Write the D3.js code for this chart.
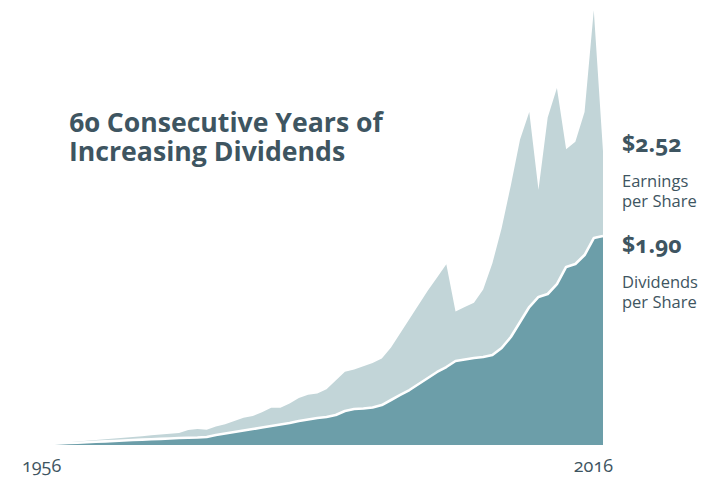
<!DOCTYPE html>
<html>
<head>
<meta charset="utf-8">
<script src="https://cdn.jsdelivr.net/npm/d3@7"></script>
<style>
  html, body { margin: 0; padding: 0; background: #ffffff; }
  svg { display: block; }
  text { font-family: "Open Sans", Lato, "DejaVu Sans", sans-serif; font-variant-numeric: oldstyle-nums; font-feature-settings: "onum" 1; }
</style>
</head>
<body>
<svg id="chart" width="710" height="488"></svg>
<script>
const years = d3.range(1956, 2017);

const earnings = [
  0.010, 0.016, 0.024, 0.031, 0.038, 0.046, 0.052, 0.059, 0.067, 0.074,
  0.081, 0.088, 0.095, 0.102, 0.110, 0.137, 0.146, 0.140, 0.170, 0.190,
  0.220, 0.250, 0.265, 0.300, 0.340, 0.340, 0.380, 0.430, 0.460, 0.470,
  0.510, 0.590, 0.670, 0.690, 0.720, 0.750, 0.790, 0.890, 1.020, 1.150,
  1.280, 1.410, 1.530, 1.650, 1.220, 1.260, 1.300, 1.420, 1.660, 1.980,
  2.370, 2.790, 3.040, 2.330, 2.990, 3.260, 2.700, 2.770, 3.040, 3.970,
  2.680
];

const dividends = [
  0.010, 0.014, 0.018, 0.021, 0.025, 0.029, 0.033, 0.037, 0.041, 0.045,
  0.049, 0.052, 0.056, 0.060, 0.064, 0.066, 0.068, 0.073, 0.091, 0.105,
  0.119, 0.132, 0.146, 0.160, 0.174, 0.187, 0.201, 0.219, 0.233, 0.247,
  0.256, 0.274, 0.311, 0.329, 0.333, 0.342, 0.365, 0.411, 0.457, 0.502,
  0.557, 0.612, 0.667, 0.712, 0.767, 0.781, 0.795, 0.804, 0.822, 0.886,
  0.986, 1.123, 1.260, 1.352, 1.379, 1.470, 1.626, 1.653, 1.735, 1.890,
  1.909
];

const titleLines = ["60 Consecutive Years of", "Increasing Dividends"];
const yearLabels = ["1956", "2016"];
const earningsLabel = { value: "$2.52", lines: ["Earnings", "per Share"] };
const dividendsLabel = { value: "$1.90", lines: ["Dividends", "per Share"] };

const textColor = "#3e5561";
const svg = d3.select("#chart");

const x = d3.scaleLinear().domain([1956, 2016]).range([50, 603]);
const y = d3.scaleLinear().domain([0, 4]).range([445, 7]);

const eData = years.map((yr, i) => ({ yr, v: earnings[i] }));
const dData = years.map((yr, i) => ({ yr, v: dividends[i] }));

const area = d3.area().x(d => x(d.yr)).y0(y(0)).y1(d => y(d.v));
const line = d3.line().x(d => x(d.yr)).y(d => y(d.v));

svg.append("path").datum(eData).attr("d", area).attr("fill", "#c2d5d8");
svg.append("path").datum(dData).attr("d", area).attr("fill", "#6c9ea9");
svg.append("path").datum(dData).attr("d", line)
  .attr("fill", "none").attr("stroke", "#ffffff").attr("stroke-width", 2.6)
  .attr("stroke-linejoin", "round");

// Title (one text element, two lines)
const title = svg.append("text").attr("x", 69).attr("y", 132)
  .attr("font-size", 28).attr("font-weight", 700).attr("fill", textColor);
const tl1 = title.append("tspan").attr("x", 69).attr("y", 132).text(titleLines[0]);
const w1 = tl1.node().getComputedTextLength();
title.attr("font-size", (28 * 314 / w1).toFixed(2));
title.append("tspan").attr("x", 69).attr("y", 161).text(titleLines[1]);

// Year labels
svg.append("text").attr("x", 22).attr("y", 472).attr("font-size", 18)
  .attr("fill", textColor).text(yearLabels[0]);
svg.append("text").attr("x", 613).attr("y", 472).attr("font-size", 18)
  .attr("text-anchor", "end").attr("fill", textColor).text(yearLabels[1]);

// Right labels
function sideLabel(lbl, baseY) {
  svg.append("text").attr("x", 622).attr("y", baseY)
    .attr("font-size", 23).attr("font-weight", 700).attr("fill", textColor)
    .text(lbl.value);
  const t = svg.append("text").attr("font-size", 16.5).attr("fill", textColor);
  lbl.lines.forEach((s, i) => {
    t.append("tspan").attr("x", 622).attr("y", baseY + 35 + i * 20).text(s);
  });
}
sideLabel(earningsLabel, 152);
sideLabel(dividendsLabel, 253);
</script>
</body>
</html>
